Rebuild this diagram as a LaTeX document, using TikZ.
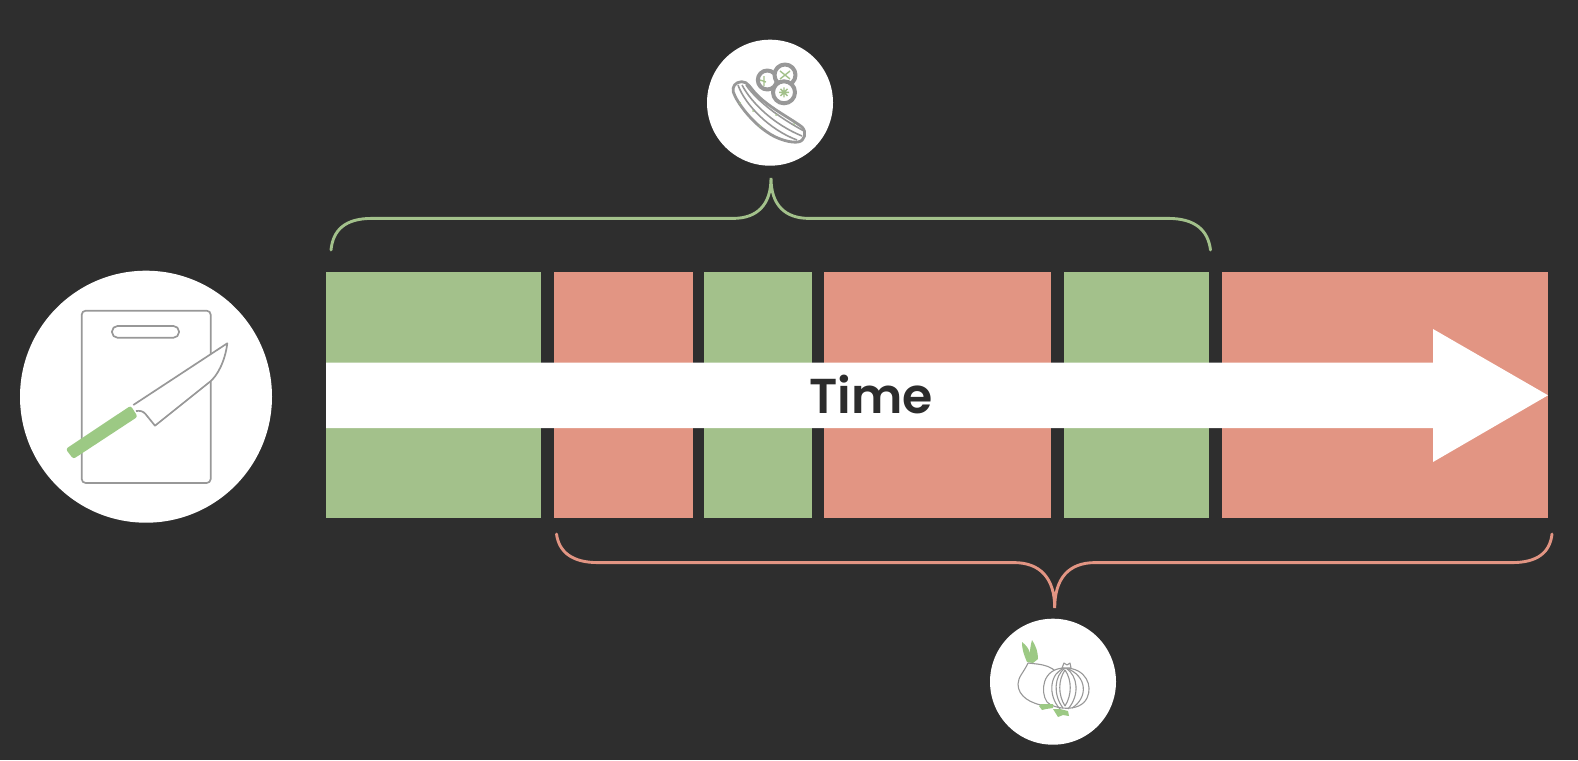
\documentclass[tikz,border=0pt]{standalone}
\usepackage{fontspec}
\setmainfont{Poppins}
\newfontfamily\timefont{Poppins SemiBold}
\usepackage{xcolor}
\definecolor{darkbg}{HTML}{2E2E2E}
\definecolor{cukegreen}{HTML}{A3C18B}
\definecolor{onionred}{HTML}{E29583}
\definecolor{handlegreen}{HTML}{9CC984}
\definecolor{iconline}{HTML}{989898}
\definecolor{timetext}{HTML}{2C2C2C}

\begin{document}
\begin{tikzpicture}[
			x=1pt,y=-1pt,
			every node/.style={inner sep=0pt,outer sep=0pt},
			greenbar/.style={fill=cukegreen,minimum height=246pt},
			redbar/.style={fill=onionred,minimum height=246pt},
			whitedisc/.style={circle,fill=white},
			greenbrace/.style={draw=cukegreen,line width=2.9pt,line cap=round},
			redbrace/.style={draw=onionred,line width=2.9pt,line cap=round},
			iconthin/.style={draw=iconline,line width=1.7pt,line join=round},
			iconfine/.style={draw=iconline,line width=1.1pt,line join=round},
			iconthick/.style={draw=iconline,line width=2.8pt,line join=round},
			]
			\useasboundingbox (0,0) rectangle (1578,760);
			\fill[darkbg] (0,0) rectangle (1578,760);
			
			% bars along the time line
			\node[greenbar,minimum width=215pt] (chopA) at (433.5,395) {};
			\node[redbar,minimum width=139pt] (waitA) at (623,395) {};
			\node[greenbar,minimum width=108pt] (chopB) at (758,395) {};
			\node[redbar,minimum width=227pt] (waitB) at (937.5,395) {};
			\node[greenbar,minimum width=145pt] (chopC) at (1136.5,395) {};
			\node[redbar,minimum width=326pt] (waitC) at (1385,395) {};
			
			% time arrow
			\coordinate (tailtop) at (326,362.7);
			\coordinate (tailbot) at (326,428);
			\coordinate (tip) at (1548,395.3);
			\fill[white] (tailtop) -- (1433,362.7) -- (1433,329) -- (tip) -- (1433,462) -- (1433,428) -- (tailbot) -- cycle;
			\node[text=timetext,font=\fontsize{49}{49}\timefont] (timelabel) at (871,395) {Time};
			
			% discs
			\node[whitedisc,minimum size=252pt] (boarddisc) at (146,396.7) {};
			\node[whitedisc,minimum size=126pt] (cukedisc) at (770,102.7) {};
			\node[whitedisc,minimum size=126pt] (oniondisc) at (1053,681.7) {};
			
			% braces
			\coordinate (cukeleft) at (331,250);
			\coordinate (cukeright) at (1210.5,250);
			\coordinate (cuketip) at (771,178);
			\coordinate (onionleft) at (556.5,534);
			\coordinate (onionright) at (1552,534);
			\coordinate (oniontip) at (1054.7,608);
			\draw[greenbrace] (cukeleft) .. controls (333,230) and (345,218.4) .. (372,218.4) -- (733,218.4)
				.. controls (757,218.4) and (771,205) .. (cuketip) .. controls (771,205) and (785,218.4) .. (809,218.4)
				-- (1168,218.4) .. controls (1195,218.4) and (1208,230) .. (cukeright);
			\draw[redbrace] (onionleft) .. controls (559,552) and (572,562.6) .. (598,562.6) -- (1014,562.6)
				.. controls (1040,562.6) and (1054.7,578) .. (oniontip) .. controls (1054.7,578) and (1069,562.6) .. (1095,562.6)
				-- (1512,562.6) .. controls (1538,562.6) and (1550,552) .. (onionright);
			
			% board and knife
			\draw[iconthin,rounded corners=4pt] (81.7,310.7) rectangle (210.7,483);
			\draw[iconthin,rounded corners=5.5pt] (112,326) rectangle (179,337.7);
			\draw[iconthin,fill=white] (133.3,405) -- (227.3,343.3) .. controls (225,362) and (217,376) .. (210,381.7)
				-- (155,425.7) -- (145.5,414) .. controls (143,411) and (140,410.5) .. (136,411);
			\fill[handlegreen,rounded corners=2.5pt] (130.7,405.7) -- (137.7,416.7) -- (73.3,459) -- (65.7,449) -- cycle;
			
			% cucumber
			\draw[iconthick,fill=white] (741.7,81.7) .. controls (735,82) and (732,87) .. (733.3,92)
				.. controls (737,103) and (752,122) .. (767,132) .. controls (778,140) and (792,143) .. (798,142)
				.. controls (805,141) and (807,132) .. (802,127) .. controls (790,118) and (770,108) .. (757,95)
				.. controls (750,88) and (748,81.5) .. (741.7,81.7) -- cycle;
			\draw[iconline,line width=1.6pt] (738,85) .. controls (745,105) and (770,130) .. (797,140);
			\draw[iconline,line width=1.6pt] (742,85) .. controls (752,104) and (775,125) .. (802,136);
			\draw[iconline,line width=1.6pt] (746,85) .. controls (758,102) and (780,118) .. (804,131);
			\fill[cukegreen] (740,103) circle (1pt) (753,111) circle (1pt) (776,115) circle (1pt) (760,126) circle (1pt) (794,124) circle (1pt);
			\draw[iconthick,line width=4pt,fill=white] (767.3,80) circle (9.5pt);
			\draw[iconthick,line width=4pt,fill=white] (785,75) circle (10.5pt);
			\draw[iconthick,line width=4pt,fill=white] (784,92.3) circle (11pt);
			\draw[cukegreen,line width=1.4pt] (764,76) -- (764,86) (760,80) -- (766,82)
				(780,71) -- (790,79) (790,71) -- (780,79)
				(779,92.3) -- (789,92.3) (784,87.3) -- (784,97.3) (780.5,88.8) -- (787.5,95.8) (787.5,88.8) -- (780.5,95.8);
			
			% onion
			\fill[handlegreen] (1027,662) .. controls (1024,655) and (1022,650) .. (1022,642) .. controls (1026,645) and (1029,649) .. (1030,653)
				.. controls (1030,648) and (1031,644) .. (1032,640) .. controls (1036,646) and (1038,652) .. (1038,659) -- (1033,663) -- cycle;
			\draw[iconfine] (1028,663) .. controls (1024,672) and (1018,677) .. (1018,684)
				.. controls (1018,696) and (1030,704) .. (1047,706);
			\draw[iconfine] (1037,664) .. controls (1045,665) and (1052,667) .. (1056,672);
			\draw[iconfine] (1028,663) -- (1037,664);
			\draw[iconfine,fill=white] (1065,668) .. controls (1042,668) and (1040,692) .. (1047,702)
				.. controls (1053,709) and (1080,713) .. (1087,698) .. controls (1093,686) and (1086,668) .. (1065,668);
			\draw[iconfine] (1065,668) .. controls (1050,672) and (1047,695) .. (1060,709);
			\draw[iconfine] (1065,668) .. controls (1054,676) and (1053,695) .. (1063,708);
			\draw[iconfine] (1065,670) .. controls (1058,680) and (1058,695) .. (1065,706);
			\draw[iconfine] (1065,670) .. controls (1072,680) and (1072,695) .. (1065,706);
			\draw[iconfine] (1066,668) .. controls (1078,676) and (1080,695) .. (1068,709);
			\draw[iconfine] (1066,668) .. controls (1088,676) and (1088,698) .. (1072,708);
			\draw[iconfine,fill=white] (1062,668) -- (1064,663) -- (1067,665) -- (1070,663) -- (1071,668) -- cycle;
			\fill[handlegreen] (1039,706) -- (1041,704) -- (1053,704) -- (1053,708) -- (1046,709) -- (1042,710) -- cycle;
			\fill[handlegreen] (1053,709) -- (1060,709) -- (1068,711) -- (1069,716) -- (1063,715) -- (1058,717) -- cycle;
		\end{tikzpicture}
\end{document}
